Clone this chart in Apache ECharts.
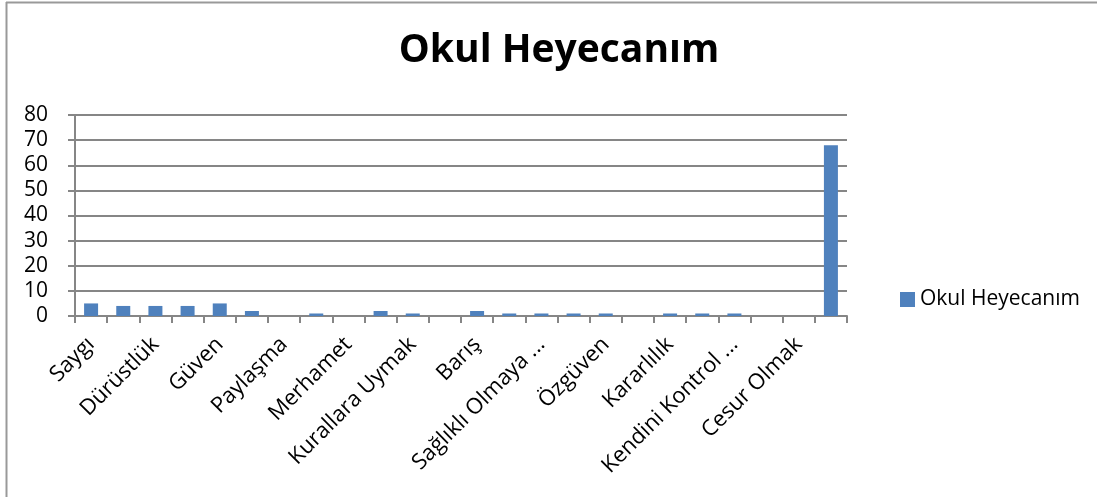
<!DOCTYPE html>
<html>
<head>
<meta charset="utf-8">
<title>Okul Heyecanım</title>
<script src="https://cdn.jsdelivr.net/npm/echarts@6/dist/echarts.min.js"></script>
<style>
  html, body { margin: 0; padding: 0; background: #fff; }
  #main { width: 1097px; height: 497px; }
</style>
</head>
<body>
<div id="main"></div>
<script>
// kategoriler (tek sıradakiler grafikte yazılmıyor)
var categories = ['Saygı', 'Sevgi', 'Dürüstlük', 'Sorumluluk', 'Güven', 'Yardımlaşma',
    'Paylaşma', 'Hoşgörü', 'Merhamet', 'Dostluk', 'Kurallara Uymak', 'Adalet',
    'Barış', 'Temizlik', 'Sağlıklı Olmaya ...', 'Sabır', 'Özgüven', 'Çalışkanlık',
    'Kararlılık', 'Empati', 'Kendini Kontrol ...', 'İşbirliği', 'Cesur Olmak', 'Mutluluk'];
var values = [5, 4, 4, 4, 5, 2, 0, 1, 0, 2, 1, 0, 2, 1, 1, 1, 1, 0, 1, 1, 1, 0, 0, 68];
var yTicks = { min: 0, max: 80, interval: 10 };
var seriesName = 'Okul Heyecanım';

var font = '"Open Sans", "Liberation Sans", sans-serif';
var grey = '#868686';

var myChart = echarts.init(document.getElementById('main'));

var option = {
    backgroundColor: '#fff',
    title: {
        text: 'Okul Heyecanım',
        left: 554,
        top: 26,
        textAlign: 'center',
        textStyle: { fontFamily: font, fontSize: 39, fontWeight: 'bold', color: '#000' }
    },
    legend: {
        data: [seriesName],
        left: 895,
        top: 284,
        itemWidth: 15,
        itemHeight: 15,
        itemGap: 6,
        icon: 'rect',
        textStyle: { fontFamily: font, fontSize: 21, color: '#000' }
    },
    grid: {
        left: 75,
        right: 250,
        top: 115,
        bottom: 181
    },
    xAxis: {
        type: 'category',
        data: categories,
        axisLine: { lineStyle: { color: grey, width: 2 } },
        axisTick: { show: true, interval: 0, length: 7, lineStyle: { color: grey, width: 2 } },
        axisLabel: {
            interval: 1,
            rotate: 45,
            margin: 25,
            fontFamily: font,
            fontSize: 22,
            color: '#000'
        }
    },
    yAxis: {
        type: 'value',
        min: yTicks.min,
        max: yTicks.max,
        interval: yTicks.interval,
        axisLine: { show: true, lineStyle: { color: grey, width: 2 } },
        axisTick: { show: true, length: 7, lineStyle: { color: grey, width: 2 } },
        splitLine: { lineStyle: { color: grey, width: 2 } },
        axisLabel: {
            margin: 27,
            fontFamily: font,
            fontSize: 21,
            color: '#000'
        }
    },
    series: [
        {
            name: seriesName,
            type: 'bar',
            data: values,
            barWidth: 14,
            itemStyle: { color: '#4F81BD' }
        }
    ],
    graphic: [
        // çerçeve (sadece üst ve sol görünüyor)
        { type: 'line', shape: { x1: 6, y1: 2.5, x2: 1097, y2: 2.5 }, style: { stroke: '#999', lineWidth: 2 } },
        { type: 'line', shape: { x1: 6.5, y1: 2, x2: 6.5, y2: 497 }, style: { stroke: '#999', lineWidth: 2 } }
    ]
};

myChart.setOption(option);
window.onresize = myChart.resize;
</script>
</body>
</html>
